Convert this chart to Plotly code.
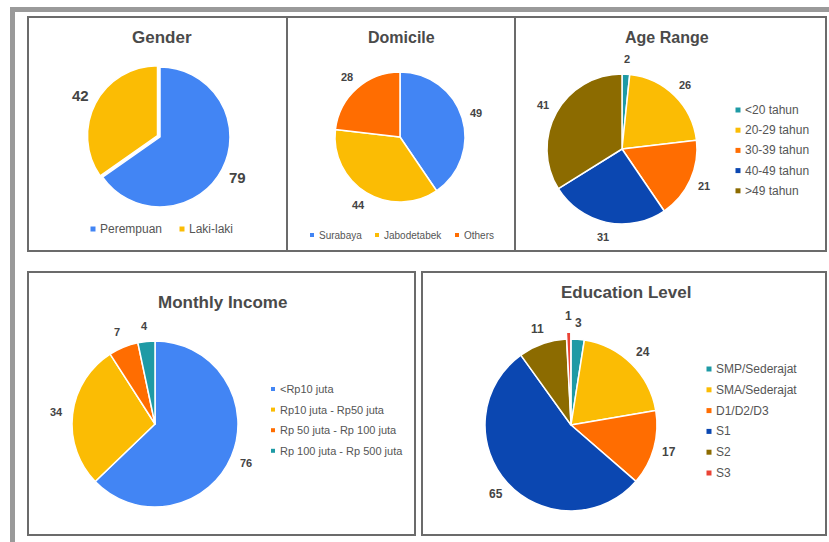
import math
import plotly.graph_objects as go

W, H = 829, 542

# ---------------- data ----------------
gender_labels = ["Perempuan", "Laki-laki"]
gender_values = [79, 42]

domicile_labels = ["Surabaya", "Jabodetabek", "Others"]
domicile_values = [49, 44, 28]

age_labels = ["<20 tahun", "20-29 tahun", "30-39 tahun", "40-49 tahun", ">49 tahun"]
age_values = [2, 26, 21, 31, 41]

income_labels = ["<Rp10 juta", "Rp10 juta - Rp50 juta", "Rp 50 juta - Rp 100 juta", "Rp 100 juta - Rp 500 juta"]
income_values = [76, 34, 7, 4]

edu_labels = ["SMP/Sederajat", "SMA/Sederajat", "D1/D2/D3", "S1", "S2", "S3"]
edu_values = [3, 24, 17, 65, 11, 1]

# ---------------- styles ----------------
BLUE = "#4285F4"
YELLOW = "#FBBC04"
ORANGE = "#FF6D01"
TEAL = "#1E9AA5"
DBLUE = "#0B47B1"
OLIVE = "#8C6B00"
RED = "#EA4335"

gender_colors = [BLUE, YELLOW]
domicile_colors = [BLUE, YELLOW, ORANGE]
age_colors = [TEAL, YELLOW, ORANGE, DBLUE, OLIVE]
income_colors = [BLUE, YELLOW, ORANGE, TEAL]
edu_colors = [TEAL, YELLOW, ORANGE, DBLUE, OLIVE, RED]

FONT = "Liberation Sans, Arial, sans-serif"
TXT = "#444444"

fig = go.Figure()
shapes = []
annotations = []


def px_domain(cx, cy, r):
    return dict(x=[(cx - r) / W, (cx + r) / W], y=[1 - (cy + r) / H, 1 - (cy - r) / H])


def add_pie(labels, values, colors, cx, cy, r, fsize, gap, pull=None):
    # r = radius of the un-pulled slices (px); the domain is enlarged for pulled slices
    pulls = pull if pull else [0] * len(values)
    R = r * (1 + max(pulls))
    fig.add_trace(go.Pie(
        labels=labels, values=values, sort=False, direction="clockwise", rotation=0,
        marker=dict(colors=colors, line=dict(color="white", width=1.5)),
        textinfo="none", pull=pull, showlegend=False, domain=px_domain(cx, cy, R),
        hoverinfo="label+value",
    ))
    # value labels outside each slice, placed along the slice's mid-angle
    total = sum(values)
    cum = 0
    for v, p in zip(values, pulls):
        ang = 2 * math.pi * (cum + v / 2) / total
        cum += v
        dist = r * (1 + p) + gap
        x = cx + dist * math.sin(ang)
        y = cy - dist * math.cos(ang)
        annotations.append(dict(text="<b>%d</b>" % v, x=x / W, y=1 - y / H, xref="paper", yref="paper",
                                showarrow=False, xanchor="center", yanchor="middle",
                                font=dict(family=FONT, size=fsize, color=TXT)))


add_pie(gender_labels, gender_values, gender_colors, 160, 137, 70, 15, 17, pull=[0, 0.04])
add_pie(domicile_labels, domicile_values, domicile_colors, 400, 137, 65, 11, 15)
add_pie(age_labels, age_values, age_colors, 622, 149, 75, 11, 15)
add_pie(income_labels, income_values, income_colors, 155, 424, 83, 11, 16)
add_pie(edu_labels, edu_values, edu_colors, 571, 425, 86, 12, 16, pull=[0, 0, 0, 0, 0, 0.08])

# outer frame
shapes.append(dict(type="line", xref="paper", yref="paper", x0=10 / W, x1=1, y0=1 - 9.5 / H, y1=1 - 9.5 / H,
                   line=dict(color="#9a9a9a", width=5)))
shapes.append(dict(type="line", xref="paper", yref="paper", x0=12.5 / W, x1=12.5 / W, y0=0, y1=1 - 7 / H,
                   line=dict(color="#9a9a9a", width=5)))

# panel boxes
boxes = [(28, 17, 287, 251), (287, 17, 515, 251), (515, 17, 826, 251), (28, 272, 415, 535), (422, 272, 826, 535)]
for x0, y0, x1, y1 in boxes:
    shapes.append(dict(type="rect", xref="paper", yref="paper", x0=x0 / W, x1=x1 / W, y0=1 - y1 / H, y1=1 - y0 / H,
                       line=dict(color="#6b6b6b", width=2), fillcolor="rgba(0,0,0,0)"))

# titles
titles = [("Gender", 162, 38, 17), ("Domicile", 401, 38, 16), ("Age Range", 667, 38, 16),
          ("Monthly Income", 222, 302, 17), ("Education Level", 626, 292, 17)]
for t, x, y, s in titles:
    annotations.append(dict(text="<b>" + t + "</b>", x=x / W, y=1 - y / H, xref="paper", yref="paper",
                            showarrow=False, xanchor="center", yanchor="middle",
                            font=dict(family=FONT, size=s, color="#4a4a4a")))


def legend(labels, colors, positions, fsize, sq=5):
    for lab, col, (x, y) in zip(labels, colors, positions):
        shapes.append(dict(type="rect", xref="paper", yref="paper",
                           x0=(x - sq / 2) / W, x1=(x + sq / 2) / W, y0=1 - (y + sq / 2) / H, y1=1 - (y - sq / 2) / H,
                           line=dict(width=0), fillcolor=col))
        annotations.append(dict(text=lab, x=(x + 5) / W, y=1 - y / H, xref="paper", yref="paper",
                                showarrow=False, xanchor="left", yanchor="middle",
                                font=dict(family=FONT, size=fsize, color="#555555")))


legend(gender_labels, gender_colors, [(93, 229), (182, 229)], 12)
legend(domicile_labels, domicile_colors, [(312, 235), (377, 235), (457, 235)], 10, sq=4)
legend(age_labels, age_colors, [(738, 110 + 20.2 * i) for i in range(len(age_labels))], 12)
legend(income_labels, income_colors, [(273, 389 + 20.6 * i) for i in range(len(income_labels))], 11, sq=4)
legend(edu_labels, edu_colors, [(709, 369 + 20.8 * i) for i in range(len(edu_labels))], 12)

fig.update_layout(
    width=W, height=H, margin=dict(l=0, r=0, t=0, b=0),
    paper_bgcolor="white", plot_bgcolor="white",
    shapes=shapes, annotations=annotations, showlegend=False,
)

fig.write_html("out.html")
